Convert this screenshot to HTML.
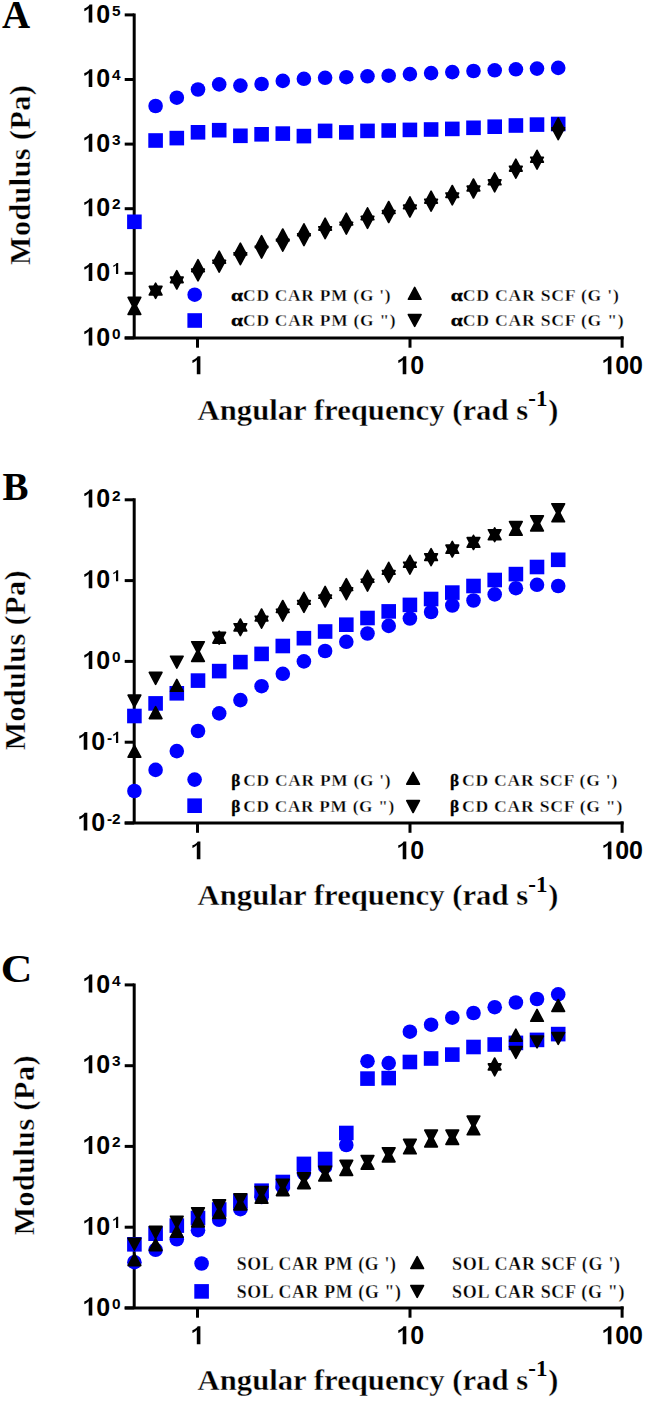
<!DOCTYPE html>
<html><head><meta charset="utf-8"><title>Rheology</title><style>
*{margin:0;padding:0}
html,body{width:645px;height:1401px;background:#fff;overflow:hidden}
svg{display:block}
.tl{font-family:"Liberation Sans",sans-serif;font-weight:bold;font-size:25px;fill:#000}
.sup{font-family:"Liberation Sans",sans-serif;font-weight:bold;font-size:15.4px;fill:#000}
.ti{font-family:"Liberation Serif",serif;font-weight:bold;font-size:30.4px;fill:#000;stroke:#fff;stroke-width:0.35px}
.lg.lgp{stroke:#000;stroke-width:0.3px;letter-spacing:0}
.tr{stroke:#000;stroke-width:1.6px;stroke-linejoin:round}
.sup2{font-family:"Liberation Serif",serif;font-weight:bold;font-size:23px;fill:#000}
.yt{font-size:30px;letter-spacing:0.5px}
.pl{font-family:"Liberation Serif",serif;font-weight:bold;font-size:39px;fill:#000}
.lg{font-family:"Liberation Serif",serif;font-weight:bold;font-size:16px;letter-spacing:0.7px;fill:#000;stroke:#fff;stroke-width:0.28px}
</style></head><body>
<svg width="645" height="1401" viewBox="0 0 645 1401">
<rect width="645" height="1401" fill="#fff"/>
<text x="2" y="27.5" class="pl">A</text>
<text x="2.5" y="499.5" class="pl">B</text>
<text x="0.8" y="982.4" class="pl" textLength="31.6" lengthAdjust="spacingAndGlyphs">C</text>
<g stroke="#000" stroke-width="3" fill="none">
<path d="M134.2 13.4V337.9"/>
<path d="M124.7 337.9H623.6"/>
<path d="M124.7 14.9H134.2"/>
<path d="M124.7 79.5H134.2"/>
<path d="M124.7 144.1H134.2"/>
<path d="M124.7 208.7H134.2"/>
<path d="M124.7 273.3H134.2"/>
<path d="M124.7 337.9H134.2"/>
<path d="M197.5 337.9V347.7"/>
<path d="M410.0 337.9V347.7"/>
<path d="M622.1 336.4V347.7"/>
</g>
<text x="112.04" y="15.6" class="sup">5</text>
<path transform="translate(82.3 22.5)" d="M10.0 0.0L10.0 -17.9L7.3 -17.9C6.4 -16.2 4.4 -14.8 2.0 -14.0L2.0 -11.3C3.6 -11.8 5.1 -12.8 6.4 -14.2L6.4 0.0Z"/>
<text x="96.2" y="22.5" class="tl">0</text>
<text x="112.04" y="80.2" class="sup">4</text>
<path transform="translate(82.3 87.1)" d="M10.0 0.0L10.0 -17.9L7.3 -17.9C6.4 -16.2 4.4 -14.8 2.0 -14.0L2.0 -11.3C3.6 -11.8 5.1 -12.8 6.4 -14.2L6.4 0.0Z"/>
<text x="96.2" y="87.1" class="tl">0</text>
<text x="112.04" y="144.8" class="sup">3</text>
<path transform="translate(82.3 151.7)" d="M10.0 0.0L10.0 -17.9L7.3 -17.9C6.4 -16.2 4.4 -14.8 2.0 -14.0L2.0 -11.3C3.6 -11.8 5.1 -12.8 6.4 -14.2L6.4 0.0Z"/>
<text x="96.2" y="151.7" class="tl">0</text>
<text x="112.04" y="209.4" class="sup">2</text>
<path transform="translate(82.3 216.3)" d="M10.0 0.0L10.0 -17.9L7.3 -17.9C6.4 -16.2 4.4 -14.8 2.0 -14.0L2.0 -11.3C3.6 -11.8 5.1 -12.8 6.4 -14.2L6.4 0.0Z"/>
<text x="96.2" y="216.3" class="tl">0</text>
<path transform="translate(112.04 274.0) scale(0.616)" d="M10.0 0.0L10.0 -17.9L7.3 -17.9C6.4 -16.2 4.4 -14.8 2.0 -14.0L2.0 -11.3C3.6 -11.8 5.1 -12.8 6.4 -14.2L6.4 0.0Z"/>
<path transform="translate(82.3 280.9)" d="M10.0 0.0L10.0 -17.9L7.3 -17.9C6.4 -16.2 4.4 -14.8 2.0 -14.0L2.0 -11.3C3.6 -11.8 5.1 -12.8 6.4 -14.2L6.4 0.0Z"/>
<text x="96.2" y="280.9" class="tl">0</text>
<text x="112.04" y="338.6" class="sup">0</text>
<path transform="translate(82.3 345.5)" d="M10.0 0.0L10.0 -17.9L7.3 -17.9C6.4 -16.2 4.4 -14.8 2.0 -14.0L2.0 -11.3C3.6 -11.8 5.1 -12.8 6.4 -14.2L6.4 0.0Z"/>
<text x="96.2" y="345.5" class="tl">0</text>
<path transform="translate(190.4 374.2)" d="M10.0 0.0L10.0 -17.9L7.3 -17.9C6.4 -16.2 4.4 -14.8 2.0 -14.0L2.0 -11.3C3.6 -11.8 5.1 -12.8 6.4 -14.2L6.4 0.0Z"/>
<path transform="translate(396.3 374.2)" d="M10.0 0.0L10.0 -17.9L7.3 -17.9C6.4 -16.2 4.4 -14.8 2.0 -14.0L2.0 -11.3C3.6 -11.8 5.1 -12.8 6.4 -14.2L6.4 0.0Z"/>
<text x="410.2" y="374.2" class="tl">0</text>
<path transform="translate(601.4 374.2)" d="M10.0 0.0L10.0 -17.9L7.3 -17.9C6.4 -16.2 4.4 -14.8 2.0 -14.0L2.0 -11.3C3.6 -11.8 5.1 -12.8 6.4 -14.2L6.4 0.0Z"/>
<text x="615.2" y="374.2" class="tl">0</text>
<text x="629.1" y="374.2" class="tl">0</text>
<text x="197.6" y="420.3" class="ti" textLength="330.5" lengthAdjust="spacingAndGlyphs">Angular frequency (rad s</text>
<text x="528.3" y="406.4" class="sup2">-1</text>
<text x="548.3" y="420.3" class="ti">)</text>
<text transform="translate(29.6 174.8) rotate(-90)" text-anchor="middle" class="ti yt">Modulus (Pa)</text>
<g stroke="#000" stroke-width="3" fill="none">
<path d="M134.2 498.3V823.0"/>
<path d="M124.7 823.0H623.6"/>
<path d="M124.7 499.8H134.2"/>
<path d="M124.7 580.6H134.2"/>
<path d="M124.7 661.4H134.2"/>
<path d="M124.7 742.2H134.2"/>
<path d="M124.7 823.0H134.2"/>
<path d="M197.5 823.0V832.8"/>
<path d="M410.0 823.0V832.8"/>
<path d="M622.1 821.5V832.8"/>
</g>
<text x="112.04" y="500.5" class="sup">2</text>
<path transform="translate(82.3 507.4)" d="M10.0 0.0L10.0 -17.9L7.3 -17.9C6.4 -16.2 4.4 -14.8 2.0 -14.0L2.0 -11.3C3.6 -11.8 5.1 -12.8 6.4 -14.2L6.4 0.0Z"/>
<text x="96.2" y="507.4" class="tl">0</text>
<path transform="translate(112.04 581.3) scale(0.616)" d="M10.0 0.0L10.0 -17.9L7.3 -17.9C6.4 -16.2 4.4 -14.8 2.0 -14.0L2.0 -11.3C3.6 -11.8 5.1 -12.8 6.4 -14.2L6.4 0.0Z"/>
<path transform="translate(82.3 588.2)" d="M10.0 0.0L10.0 -17.9L7.3 -17.9C6.4 -16.2 4.4 -14.8 2.0 -14.0L2.0 -11.3C3.6 -11.8 5.1 -12.8 6.4 -14.2L6.4 0.0Z"/>
<text x="96.2" y="588.2" class="tl">0</text>
<text x="112.04" y="662.1" class="sup">0</text>
<path transform="translate(82.3 669.0)" d="M10.0 0.0L10.0 -17.9L7.3 -17.9C6.4 -16.2 4.4 -14.8 2.0 -14.0L2.0 -11.3C3.6 -11.8 5.1 -12.8 6.4 -14.2L6.4 0.0Z"/>
<text x="96.2" y="669.0" class="tl">0</text>
<text x="106.91" y="742.9" class="sup">-</text>
<path transform="translate(112.04 742.9) scale(0.616)" d="M10.0 0.0L10.0 -17.9L7.3 -17.9C6.4 -16.2 4.4 -14.8 2.0 -14.0L2.0 -11.3C3.6 -11.8 5.1 -12.8 6.4 -14.2L6.4 0.0Z"/>
<path transform="translate(77.3 749.8)" d="M10.0 0.0L10.0 -17.9L7.3 -17.9C6.4 -16.2 4.4 -14.8 2.0 -14.0L2.0 -11.3C3.6 -11.8 5.1 -12.8 6.4 -14.2L6.4 0.0Z"/>
<text x="91.2" y="749.8" class="tl">0</text>
<text x="106.91" y="823.7" class="sup">-</text>
<text x="112.04" y="823.7" class="sup">2</text>
<path transform="translate(77.3 830.6)" d="M10.0 0.0L10.0 -17.9L7.3 -17.9C6.4 -16.2 4.4 -14.8 2.0 -14.0L2.0 -11.3C3.6 -11.8 5.1 -12.8 6.4 -14.2L6.4 0.0Z"/>
<text x="91.2" y="830.6" class="tl">0</text>
<path transform="translate(190.4 859.3)" d="M10.0 0.0L10.0 -17.9L7.3 -17.9C6.4 -16.2 4.4 -14.8 2.0 -14.0L2.0 -11.3C3.6 -11.8 5.1 -12.8 6.4 -14.2L6.4 0.0Z"/>
<path transform="translate(396.3 859.3)" d="M10.0 0.0L10.0 -17.9L7.3 -17.9C6.4 -16.2 4.4 -14.8 2.0 -14.0L2.0 -11.3C3.6 -11.8 5.1 -12.8 6.4 -14.2L6.4 0.0Z"/>
<text x="410.2" y="859.3" class="tl">0</text>
<path transform="translate(601.4 859.3)" d="M10.0 0.0L10.0 -17.9L7.3 -17.9C6.4 -16.2 4.4 -14.8 2.0 -14.0L2.0 -11.3C3.6 -11.8 5.1 -12.8 6.4 -14.2L6.4 0.0Z"/>
<text x="615.2" y="859.3" class="tl">0</text>
<text x="629.1" y="859.3" class="tl">0</text>
<text x="197.6" y="905.4" class="ti" textLength="330.5" lengthAdjust="spacingAndGlyphs">Angular frequency (rad s</text>
<text x="528.3" y="891.5" class="sup2">-1</text>
<text x="548.3" y="905.4" class="ti">)</text>
<text transform="translate(25.0 660.1) rotate(-90)" text-anchor="middle" class="ti yt">Modulus (Pa)</text>
<g stroke="#000" stroke-width="3" fill="none">
<path d="M134.2 983.4V1307.9"/>
<path d="M124.7 1307.9H623.6"/>
<path d="M124.7 984.9H134.2"/>
<path d="M124.7 1065.7H134.2"/>
<path d="M124.7 1146.4H134.2"/>
<path d="M124.7 1227.2H134.2"/>
<path d="M124.7 1307.9H134.2"/>
<path d="M197.5 1307.9V1317.7"/>
<path d="M410.0 1307.9V1317.7"/>
<path d="M622.1 1306.4V1317.7"/>
</g>
<text x="112.04" y="985.6" class="sup">4</text>
<path transform="translate(82.3 992.5)" d="M10.0 0.0L10.0 -17.9L7.3 -17.9C6.4 -16.2 4.4 -14.8 2.0 -14.0L2.0 -11.3C3.6 -11.8 5.1 -12.8 6.4 -14.2L6.4 0.0Z"/>
<text x="96.2" y="992.5" class="tl">0</text>
<text x="112.04" y="1066.4" class="sup">3</text>
<path transform="translate(82.3 1073.2)" d="M10.0 0.0L10.0 -17.9L7.3 -17.9C6.4 -16.2 4.4 -14.8 2.0 -14.0L2.0 -11.3C3.6 -11.8 5.1 -12.8 6.4 -14.2L6.4 0.0Z"/>
<text x="96.2" y="1073.2" class="tl">0</text>
<text x="112.04" y="1147.1" class="sup">2</text>
<path transform="translate(82.3 1154.0)" d="M10.0 0.0L10.0 -17.9L7.3 -17.9C6.4 -16.2 4.4 -14.8 2.0 -14.0L2.0 -11.3C3.6 -11.8 5.1 -12.8 6.4 -14.2L6.4 0.0Z"/>
<text x="96.2" y="1154.0" class="tl">0</text>
<path transform="translate(112.04 1227.9) scale(0.616)" d="M10.0 0.0L10.0 -17.9L7.3 -17.9C6.4 -16.2 4.4 -14.8 2.0 -14.0L2.0 -11.3C3.6 -11.8 5.1 -12.8 6.4 -14.2L6.4 0.0Z"/>
<path transform="translate(82.3 1234.8)" d="M10.0 0.0L10.0 -17.9L7.3 -17.9C6.4 -16.2 4.4 -14.8 2.0 -14.0L2.0 -11.3C3.6 -11.8 5.1 -12.8 6.4 -14.2L6.4 0.0Z"/>
<text x="96.2" y="1234.8" class="tl">0</text>
<text x="112.04" y="1308.6" class="sup">0</text>
<path transform="translate(82.3 1315.5)" d="M10.0 0.0L10.0 -17.9L7.3 -17.9C6.4 -16.2 4.4 -14.8 2.0 -14.0L2.0 -11.3C3.6 -11.8 5.1 -12.8 6.4 -14.2L6.4 0.0Z"/>
<text x="96.2" y="1315.5" class="tl">0</text>
<path transform="translate(190.4 1344.2)" d="M10.0 0.0L10.0 -17.9L7.3 -17.9C6.4 -16.2 4.4 -14.8 2.0 -14.0L2.0 -11.3C3.6 -11.8 5.1 -12.8 6.4 -14.2L6.4 0.0Z"/>
<path transform="translate(396.3 1344.2)" d="M10.0 0.0L10.0 -17.9L7.3 -17.9C6.4 -16.2 4.4 -14.8 2.0 -14.0L2.0 -11.3C3.6 -11.8 5.1 -12.8 6.4 -14.2L6.4 0.0Z"/>
<text x="410.2" y="1344.2" class="tl">0</text>
<path transform="translate(601.4 1344.2)" d="M10.0 0.0L10.0 -17.9L7.3 -17.9C6.4 -16.2 4.4 -14.8 2.0 -14.0L2.0 -11.3C3.6 -11.8 5.1 -12.8 6.4 -14.2L6.4 0.0Z"/>
<text x="615.2" y="1344.2" class="tl">0</text>
<text x="629.1" y="1344.2" class="tl">0</text>
<text x="197.6" y="1390.3" class="ti" textLength="330.5" lengthAdjust="spacingAndGlyphs">Angular frequency (rad s</text>
<text x="528.3" y="1376.4" class="sup2">-1</text>
<text x="548.3" y="1390.3" class="ti">)</text>
<text transform="translate(33.7 1145.2) rotate(-90)" text-anchor="middle" class="ti yt">Modulus (Pa)</text>
<circle cx="194.7" cy="294.7" r="7.3" fill="#0000ff"/>
<rect x="187.4" y="313.2" width="14.6" height="14.6" fill="#0000ff"/>
<path class="tr" d="M414.70 287.40L421.05 299.30L408.35 299.30Z"/>
<path class="tr" d="M408.35 314.50L421.05 314.50L414.70 326.40Z"/>
<text x="231.0" y="301.0" class="lg lgp" textLength="12.0" lengthAdjust="spacingAndGlyphs">α</text>
<text x="243.1" y="301.0" class="lg" textLength="148.3" lengthAdjust="spacingAndGlyphs">CD CAR PM (G ')</text>
<text x="231.0" y="326.2" class="lg lgp" textLength="12.0" lengthAdjust="spacingAndGlyphs">α</text>
<text x="243.1" y="326.2" class="lg" textLength="153.3" lengthAdjust="spacingAndGlyphs">CD CAR PM (G &quot;)</text>
<text x="450.7" y="300.6" class="lg lgp" textLength="12.0" lengthAdjust="spacingAndGlyphs">α</text>
<text x="462.8" y="300.6" class="lg" textLength="156.8" lengthAdjust="spacingAndGlyphs">CD CAR SCF (G ')</text>
<text x="450.7" y="325.8" class="lg lgp" textLength="12.0" lengthAdjust="spacingAndGlyphs">α</text>
<text x="462.8" y="325.8" class="lg" textLength="161.7" lengthAdjust="spacingAndGlyphs">CD CAR SCF (G &quot;)</text>
<circle cx="194.6" cy="779.6" r="7.3" fill="#0000ff"/>
<rect x="187.3" y="798.4" width="14.6" height="14.6" fill="#0000ff"/>
<path class="tr" d="M413.10 772.30L419.45 784.20L406.75 784.20Z"/>
<path class="tr" d="M406.75 800.60L419.45 800.60L413.10 812.50Z"/>
<text x="231.3" y="786.3" class="lg lgp" textLength="9.1" lengthAdjust="spacingAndGlyphs">β</text>
<text x="243.3" y="786.3" class="lg" style="font-size:16.5px" textLength="148.1" lengthAdjust="spacingAndGlyphs">CD CAR PM (G ')</text>
<text x="231.3" y="811.5" class="lg lgp" textLength="9.1" lengthAdjust="spacingAndGlyphs">β</text>
<text x="243.3" y="811.5" class="lg" style="font-size:16.5px" textLength="151.8" lengthAdjust="spacingAndGlyphs">CD CAR PM (G &quot;)</text>
<text x="450.0" y="786.3" class="lg lgp" textLength="9.1" lengthAdjust="spacingAndGlyphs">β</text>
<text x="462.0" y="786.3" class="lg" style="font-size:16.5px" textLength="156.0" lengthAdjust="spacingAndGlyphs">CD CAR SCF (G ')</text>
<text x="450.0" y="811.5" class="lg lgp" textLength="9.1" lengthAdjust="spacingAndGlyphs">β</text>
<text x="462.0" y="811.5" class="lg" style="font-size:16.5px" textLength="161.0" lengthAdjust="spacingAndGlyphs">CD CAR SCF (G &quot;)</text>
<circle cx="201.6" cy="1263.5" r="7.3" fill="#0000ff"/>
<rect x="194.3" y="1284.1" width="14.6" height="14.6" fill="#0000ff"/>
<path class="tr" d="M417.20 1256.60L423.55 1268.50L410.85 1268.50Z"/>
<path class="tr" d="M410.85 1285.50L423.55 1285.50L417.20 1297.40Z"/>
<text x="236.8" y="1269.9" class="lg" style="font-size:18.5px" textLength="159.9" lengthAdjust="spacingAndGlyphs">SOL CAR PM (G ')</text>
<text x="236.8" y="1297.8" class="lg" style="font-size:18.5px" textLength="164.9" lengthAdjust="spacingAndGlyphs">SOL CAR PM (G &quot;)</text>
<text x="452.1" y="1269.9" class="lg" style="font-size:18.5px" textLength="168.7" lengthAdjust="spacingAndGlyphs">SOL CAR SCF (G ')</text>
<text x="452.1" y="1297.8" class="lg" style="font-size:18.5px" textLength="173.1" lengthAdjust="spacingAndGlyphs">SOL CAR SCF (G &quot;)</text>
<circle cx="155.6" cy="106.0" r="7.3" fill="#0000ff"/>
<circle cx="176.8" cy="97.7" r="7.3" fill="#0000ff"/>
<circle cx="198.0" cy="89.5" r="7.3" fill="#0000ff"/>
<circle cx="219.2" cy="84.4" r="7.3" fill="#0000ff"/>
<circle cx="240.4" cy="85.6" r="7.3" fill="#0000ff"/>
<circle cx="261.6" cy="84.0" r="7.3" fill="#0000ff"/>
<circle cx="282.8" cy="80.9" r="7.3" fill="#0000ff"/>
<circle cx="303.9" cy="78.8" r="7.3" fill="#0000ff"/>
<circle cx="325.1" cy="77.8" r="7.3" fill="#0000ff"/>
<circle cx="346.3" cy="77.2" r="7.3" fill="#0000ff"/>
<circle cx="367.5" cy="76.3" r="7.3" fill="#0000ff"/>
<circle cx="388.7" cy="75.7" r="7.3" fill="#0000ff"/>
<circle cx="409.9" cy="74.1" r="7.3" fill="#0000ff"/>
<circle cx="431.1" cy="73.1" r="7.3" fill="#0000ff"/>
<circle cx="452.3" cy="72.1" r="7.3" fill="#0000ff"/>
<circle cx="473.5" cy="71.0" r="7.3" fill="#0000ff"/>
<circle cx="494.7" cy="70.3" r="7.3" fill="#0000ff"/>
<circle cx="515.9" cy="69.3" r="7.3" fill="#0000ff"/>
<circle cx="537.0" cy="68.6" r="7.3" fill="#0000ff"/>
<circle cx="558.2" cy="67.9" r="7.3" fill="#0000ff"/>
<rect x="127.1" y="214.5" width="14.6" height="14.6" fill="#0000ff"/>
<rect x="148.3" y="133.2" width="14.6" height="14.6" fill="#0000ff"/>
<rect x="169.5" y="130.8" width="14.6" height="14.6" fill="#0000ff"/>
<rect x="190.7" y="125.0" width="14.6" height="14.6" fill="#0000ff"/>
<rect x="211.9" y="122.9" width="14.6" height="14.6" fill="#0000ff"/>
<rect x="233.1" y="128.5" width="14.6" height="14.6" fill="#0000ff"/>
<rect x="254.3" y="127.0" width="14.6" height="14.6" fill="#0000ff"/>
<rect x="275.5" y="126.3" width="14.6" height="14.6" fill="#0000ff"/>
<rect x="296.6" y="128.8" width="14.6" height="14.6" fill="#0000ff"/>
<rect x="317.8" y="123.6" width="14.6" height="14.6" fill="#0000ff"/>
<rect x="339.0" y="125.1" width="14.6" height="14.6" fill="#0000ff"/>
<rect x="360.2" y="123.6" width="14.6" height="14.6" fill="#0000ff"/>
<rect x="381.4" y="123.2" width="14.6" height="14.6" fill="#0000ff"/>
<rect x="402.6" y="122.6" width="14.6" height="14.6" fill="#0000ff"/>
<rect x="423.8" y="122.2" width="14.6" height="14.6" fill="#0000ff"/>
<rect x="445.0" y="121.6" width="14.6" height="14.6" fill="#0000ff"/>
<rect x="466.2" y="120.5" width="14.6" height="14.6" fill="#0000ff"/>
<rect x="487.4" y="119.4" width="14.6" height="14.6" fill="#0000ff"/>
<rect x="508.6" y="118.2" width="14.6" height="14.6" fill="#0000ff"/>
<rect x="529.7" y="117.3" width="14.6" height="14.6" fill="#0000ff"/>
<rect x="550.9" y="116.7" width="14.6" height="14.6" fill="#0000ff"/>
<path class="tr" d="M128.08 297.40L140.78 297.40L134.43 309.30Z"/>
<path class="tr" d="M134.43 302.50L140.78 314.40L128.08 314.40Z"/>
<path class="tr" d="M155.62 283.10L161.97 295.00L149.27 295.00Z"/>
<path class="tr" d="M149.27 286.40L161.97 286.40L155.62 298.30Z"/>
<path class="tr" d="M176.81 270.70L183.16 282.60L170.46 282.60Z"/>
<path class="tr" d="M170.46 277.10L183.16 277.10L176.81 289.00Z"/>
<path class="tr" d="M198.00 259.70L204.35 271.60L191.65 271.60Z"/>
<path class="tr" d="M191.65 269.00L204.35 269.00L198.00 280.90Z"/>
<path class="tr" d="M219.19 251.20L225.54 263.10L212.84 263.10Z"/>
<path class="tr" d="M212.84 260.30L225.54 260.30L219.19 272.20Z"/>
<path class="tr" d="M240.38 243.10L246.73 255.00L234.03 255.00Z"/>
<path class="tr" d="M234.03 252.80L246.73 252.80L240.38 264.70Z"/>
<path class="tr" d="M261.57 235.70L267.92 247.60L255.22 247.60Z"/>
<path class="tr" d="M255.22 246.20L267.92 246.20L261.57 258.10Z"/>
<path class="tr" d="M282.76 229.00L289.11 240.90L276.41 240.90Z"/>
<path class="tr" d="M276.41 239.30L289.11 239.30L282.76 251.20Z"/>
<path class="tr" d="M303.95 223.80L310.30 235.70L297.60 235.70Z"/>
<path class="tr" d="M297.60 233.70L310.30 233.70L303.95 245.60Z"/>
<path class="tr" d="M325.14 218.20L331.49 230.10L318.79 230.10Z"/>
<path class="tr" d="M318.79 226.80L331.49 226.80L325.14 238.70Z"/>
<path class="tr" d="M346.33 213.10L352.68 225.00L339.98 225.00Z"/>
<path class="tr" d="M339.98 222.20L352.68 222.20L346.33 234.10Z"/>
<path class="tr" d="M367.52 207.80L373.87 219.70L361.17 219.70Z"/>
<path class="tr" d="M361.17 216.40L373.87 216.40L367.52 228.30Z"/>
<path class="tr" d="M388.71 201.50L395.06 213.40L382.36 213.40Z"/>
<path class="tr" d="M382.36 210.60L395.06 210.60L388.71 222.50Z"/>
<path class="tr" d="M409.90 196.80L416.25 208.70L403.55 208.70Z"/>
<path class="tr" d="M403.55 205.10L416.25 205.10L409.90 217.00Z"/>
<path class="tr" d="M431.09 191.20L437.44 203.10L424.74 203.10Z"/>
<path class="tr" d="M424.74 199.30L437.44 199.30L431.09 211.20Z"/>
<path class="tr" d="M452.28 185.50L458.63 197.40L445.93 197.40Z"/>
<path class="tr" d="M445.93 193.00L458.63 193.00L452.28 204.90Z"/>
<path class="tr" d="M473.47 179.00L479.82 190.90L467.12 190.90Z"/>
<path class="tr" d="M467.12 186.10L479.82 186.10L473.47 198.00Z"/>
<path class="tr" d="M494.66 172.80L501.01 184.70L488.31 184.70Z"/>
<path class="tr" d="M488.31 179.90L501.01 179.90L494.66 191.80Z"/>
<path class="tr" d="M515.85 159.20L522.20 171.10L509.50 171.10Z"/>
<path class="tr" d="M509.50 166.30L522.20 166.30L515.85 178.20Z"/>
<path class="tr" d="M537.04 150.30L543.39 162.20L530.69 162.20Z"/>
<path class="tr" d="M530.69 157.20L543.39 157.20L537.04 169.10Z"/>
<path class="tr" d="M558.23 118.00L564.58 129.90L551.88 129.90Z"/>
<path class="tr" d="M551.88 127.80L564.58 127.80L558.23 139.70Z"/>
<circle cx="134.4" cy="791.0" r="7.3" fill="#0000ff"/>
<circle cx="155.6" cy="769.9" r="7.3" fill="#0000ff"/>
<circle cx="176.8" cy="751.1" r="7.3" fill="#0000ff"/>
<circle cx="198.0" cy="731.0" r="7.3" fill="#0000ff"/>
<circle cx="219.2" cy="713.4" r="7.3" fill="#0000ff"/>
<circle cx="240.4" cy="700.1" r="7.3" fill="#0000ff"/>
<circle cx="261.6" cy="686.2" r="7.3" fill="#0000ff"/>
<circle cx="282.8" cy="673.8" r="7.3" fill="#0000ff"/>
<circle cx="303.9" cy="661.4" r="7.3" fill="#0000ff"/>
<circle cx="325.1" cy="651.0" r="7.3" fill="#0000ff"/>
<circle cx="346.3" cy="641.8" r="7.3" fill="#0000ff"/>
<circle cx="367.5" cy="633.5" r="7.3" fill="#0000ff"/>
<circle cx="388.7" cy="625.9" r="7.3" fill="#0000ff"/>
<circle cx="409.9" cy="618.5" r="7.3" fill="#0000ff"/>
<circle cx="431.1" cy="612.0" r="7.3" fill="#0000ff"/>
<circle cx="452.3" cy="605.5" r="7.3" fill="#0000ff"/>
<circle cx="473.5" cy="600.5" r="7.3" fill="#0000ff"/>
<circle cx="494.7" cy="594.4" r="7.3" fill="#0000ff"/>
<circle cx="515.9" cy="588.2" r="7.3" fill="#0000ff"/>
<circle cx="537.0" cy="584.8" r="7.3" fill="#0000ff"/>
<circle cx="558.2" cy="586.0" r="7.3" fill="#0000ff"/>
<rect x="127.1" y="708.7" width="14.6" height="14.6" fill="#0000ff"/>
<rect x="148.3" y="696.1" width="14.6" height="14.6" fill="#0000ff"/>
<rect x="169.5" y="686.0" width="14.6" height="14.6" fill="#0000ff"/>
<rect x="190.7" y="673.3" width="14.6" height="14.6" fill="#0000ff"/>
<rect x="211.9" y="663.8" width="14.6" height="14.6" fill="#0000ff"/>
<rect x="233.1" y="654.8" width="14.6" height="14.6" fill="#0000ff"/>
<rect x="254.3" y="646.6" width="14.6" height="14.6" fill="#0000ff"/>
<rect x="275.5" y="638.7" width="14.6" height="14.6" fill="#0000ff"/>
<rect x="296.6" y="630.9" width="14.6" height="14.6" fill="#0000ff"/>
<rect x="317.8" y="624.2" width="14.6" height="14.6" fill="#0000ff"/>
<rect x="339.0" y="617.4" width="14.6" height="14.6" fill="#0000ff"/>
<rect x="360.2" y="610.7" width="14.6" height="14.6" fill="#0000ff"/>
<rect x="381.4" y="604.1" width="14.6" height="14.6" fill="#0000ff"/>
<rect x="402.6" y="597.6" width="14.6" height="14.6" fill="#0000ff"/>
<rect x="423.8" y="591.7" width="14.6" height="14.6" fill="#0000ff"/>
<rect x="445.0" y="585.3" width="14.6" height="14.6" fill="#0000ff"/>
<rect x="466.2" y="578.7" width="14.6" height="14.6" fill="#0000ff"/>
<rect x="487.4" y="572.7" width="14.6" height="14.6" fill="#0000ff"/>
<rect x="508.6" y="566.8" width="14.6" height="14.6" fill="#0000ff"/>
<rect x="529.7" y="559.7" width="14.6" height="14.6" fill="#0000ff"/>
<rect x="550.9" y="552.5" width="14.6" height="14.6" fill="#0000ff"/>
<path class="tr" d="M128.08 695.10L140.78 695.10L134.43 707.00Z"/>
<path class="tr" d="M134.43 745.30L140.78 757.20L128.08 757.20Z"/>
<path class="tr" d="M149.27 672.40L161.97 672.40L155.62 684.30Z"/>
<path class="tr" d="M155.62 706.70L161.97 718.60L149.27 718.60Z"/>
<path class="tr" d="M170.46 656.20L183.16 656.20L176.81 668.10Z"/>
<path class="tr" d="M176.81 679.40L183.16 691.30L170.46 691.30Z"/>
<path class="tr" d="M191.65 641.70L204.35 641.70L198.00 653.60Z"/>
<path class="tr" d="M198.00 649.50L204.35 661.40L191.65 661.40Z"/>
<path class="tr" d="M219.19 631.20L225.54 643.10L212.84 643.10Z"/>
<path class="tr" d="M212.84 632.30L225.54 632.30L219.19 644.20Z"/>
<path class="tr" d="M240.38 619.00L246.73 630.90L234.03 630.90Z"/>
<path class="tr" d="M234.03 623.70L246.73 623.70L240.38 635.60Z"/>
<path class="tr" d="M261.57 609.00L267.92 620.90L255.22 620.90Z"/>
<path class="tr" d="M255.22 616.30L267.92 616.30L261.57 628.20Z"/>
<path class="tr" d="M282.76 600.50L289.11 612.40L276.41 612.40Z"/>
<path class="tr" d="M276.41 609.20L289.11 609.20L282.76 621.10Z"/>
<path class="tr" d="M303.95 592.30L310.30 604.20L297.60 604.20Z"/>
<path class="tr" d="M297.60 600.50L310.30 600.50L303.95 612.40Z"/>
<path class="tr" d="M325.14 586.40L331.49 598.30L318.79 598.30Z"/>
<path class="tr" d="M318.79 595.10L331.49 595.10L325.14 607.00Z"/>
<path class="tr" d="M346.33 578.60L352.68 590.50L339.98 590.50Z"/>
<path class="tr" d="M339.98 587.80L352.68 587.80L346.33 599.70Z"/>
<path class="tr" d="M367.52 570.30L373.87 582.20L361.17 582.20Z"/>
<path class="tr" d="M361.17 579.20L373.87 579.20L367.52 591.10Z"/>
<path class="tr" d="M388.71 562.30L395.06 574.20L382.36 574.20Z"/>
<path class="tr" d="M382.36 570.50L395.06 570.50L388.71 582.40Z"/>
<path class="tr" d="M409.90 555.30L416.25 567.20L403.55 567.20Z"/>
<path class="tr" d="M403.55 562.20L416.25 562.20L409.90 574.10Z"/>
<path class="tr" d="M431.09 548.60L437.44 560.50L424.74 560.50Z"/>
<path class="tr" d="M424.74 553.80L437.44 553.80L431.09 565.70Z"/>
<path class="tr" d="M452.28 541.40L458.63 553.30L445.93 553.30Z"/>
<path class="tr" d="M445.93 545.10L458.63 545.10L452.28 557.00Z"/>
<path class="tr" d="M473.47 535.30L479.82 547.20L467.12 547.20Z"/>
<path class="tr" d="M467.12 537.60L479.82 537.60L473.47 549.50Z"/>
<path class="tr" d="M494.66 527.80L501.01 539.70L488.31 539.70Z"/>
<path class="tr" d="M488.31 529.70L501.01 529.70L494.66 541.60Z"/>
<path class="tr" d="M509.50 521.60L522.20 521.60L515.85 533.50Z"/>
<path class="tr" d="M515.85 523.30L522.20 535.20L509.50 535.20Z"/>
<path class="tr" d="M530.69 515.80L543.39 515.80L537.04 527.70Z"/>
<path class="tr" d="M537.04 519.00L543.39 530.90L530.69 530.90Z"/>
<path class="tr" d="M551.88 503.80L564.58 503.80L558.23 515.70Z"/>
<path class="tr" d="M558.23 509.90L564.58 521.80L551.88 521.80Z"/>
<circle cx="134.4" cy="1262.2" r="7.3" fill="#0000ff"/>
<circle cx="155.6" cy="1249.8" r="7.3" fill="#0000ff"/>
<circle cx="176.8" cy="1239.3" r="7.3" fill="#0000ff"/>
<circle cx="198.0" cy="1230.2" r="7.3" fill="#0000ff"/>
<circle cx="219.2" cy="1219.8" r="7.3" fill="#0000ff"/>
<circle cx="240.4" cy="1209.2" r="7.3" fill="#0000ff"/>
<circle cx="261.6" cy="1197.0" r="7.3" fill="#0000ff"/>
<circle cx="282.8" cy="1187.0" r="7.3" fill="#0000ff"/>
<circle cx="303.9" cy="1173.0" r="7.3" fill="#0000ff"/>
<circle cx="325.1" cy="1166.7" r="7.3" fill="#0000ff"/>
<circle cx="346.3" cy="1145.0" r="7.3" fill="#0000ff"/>
<circle cx="367.5" cy="1061.2" r="7.3" fill="#0000ff"/>
<circle cx="388.7" cy="1063.1" r="7.3" fill="#0000ff"/>
<circle cx="409.9" cy="1031.7" r="7.3" fill="#0000ff"/>
<circle cx="431.1" cy="1024.7" r="7.3" fill="#0000ff"/>
<circle cx="452.3" cy="1017.7" r="7.3" fill="#0000ff"/>
<circle cx="473.5" cy="1013.0" r="7.3" fill="#0000ff"/>
<circle cx="494.7" cy="1007.2" r="7.3" fill="#0000ff"/>
<circle cx="515.9" cy="1002.5" r="7.3" fill="#0000ff"/>
<circle cx="537.0" cy="999.0" r="7.3" fill="#0000ff"/>
<circle cx="558.2" cy="994.4" r="7.3" fill="#0000ff"/>
<rect x="127.1" y="1237.0" width="14.6" height="14.6" fill="#0000ff"/>
<rect x="148.3" y="1226.4" width="14.6" height="14.6" fill="#0000ff"/>
<rect x="169.5" y="1218.3" width="14.6" height="14.6" fill="#0000ff"/>
<rect x="190.7" y="1210.7" width="14.6" height="14.6" fill="#0000ff"/>
<rect x="211.9" y="1202.2" width="14.6" height="14.6" fill="#0000ff"/>
<rect x="233.1" y="1193.7" width="14.6" height="14.6" fill="#0000ff"/>
<rect x="254.3" y="1183.4" width="14.6" height="14.6" fill="#0000ff"/>
<rect x="275.5" y="1174.7" width="14.6" height="14.6" fill="#0000ff"/>
<rect x="296.6" y="1156.6" width="14.6" height="14.6" fill="#0000ff"/>
<rect x="317.8" y="1151.7" width="14.6" height="14.6" fill="#0000ff"/>
<rect x="339.0" y="1125.7" width="14.6" height="14.6" fill="#0000ff"/>
<rect x="360.2" y="1071.3" width="14.6" height="14.6" fill="#0000ff"/>
<rect x="381.4" y="1070.8" width="14.6" height="14.6" fill="#0000ff"/>
<rect x="402.6" y="1054.7" width="14.6" height="14.6" fill="#0000ff"/>
<rect x="423.8" y="1051.2" width="14.6" height="14.6" fill="#0000ff"/>
<rect x="445.0" y="1047.3" width="14.6" height="14.6" fill="#0000ff"/>
<rect x="466.2" y="1039.7" width="14.6" height="14.6" fill="#0000ff"/>
<rect x="487.4" y="1037.2" width="14.6" height="14.6" fill="#0000ff"/>
<rect x="508.6" y="1035.6" width="14.6" height="14.6" fill="#0000ff"/>
<rect x="529.7" y="1032.6" width="14.6" height="14.6" fill="#0000ff"/>
<rect x="550.9" y="1026.8" width="14.6" height="14.6" fill="#0000ff"/>
<path class="tr" d="M128.08 1238.30L140.78 1238.30L134.43 1250.20Z"/>
<path class="tr" d="M134.43 1253.70L140.78 1265.60L128.08 1265.60Z"/>
<path class="tr" d="M149.27 1226.40L161.97 1226.40L155.62 1238.30Z"/>
<path class="tr" d="M155.62 1238.70L161.97 1250.60L149.27 1250.60Z"/>
<path class="tr" d="M170.46 1216.20L183.16 1216.20L176.81 1228.10Z"/>
<path class="tr" d="M176.81 1225.40L183.16 1237.30L170.46 1237.30Z"/>
<path class="tr" d="M191.65 1207.80L204.35 1207.80L198.00 1219.70Z"/>
<path class="tr" d="M198.00 1215.00L204.35 1226.90L191.65 1226.90Z"/>
<path class="tr" d="M212.84 1199.90L225.54 1199.90L219.19 1211.80Z"/>
<path class="tr" d="M219.19 1206.60L225.54 1218.50L212.84 1218.50Z"/>
<path class="tr" d="M234.03 1193.70L246.73 1193.70L240.38 1205.60Z"/>
<path class="tr" d="M240.38 1198.10L246.73 1210.00L234.03 1210.00Z"/>
<path class="tr" d="M255.22 1186.50L267.92 1186.50L261.57 1198.40Z"/>
<path class="tr" d="M261.57 1191.30L267.92 1203.20L255.22 1203.20Z"/>
<path class="tr" d="M276.41 1179.30L289.11 1179.30L282.76 1191.20Z"/>
<path class="tr" d="M282.76 1183.70L289.11 1195.60L276.41 1195.60Z"/>
<path class="tr" d="M297.60 1172.80L310.30 1172.80L303.95 1184.70Z"/>
<path class="tr" d="M303.95 1176.70L310.30 1188.60L297.60 1188.60Z"/>
<path class="tr" d="M318.79 1166.20L331.49 1166.20L325.14 1178.10Z"/>
<path class="tr" d="M325.14 1169.00L331.49 1180.90L318.79 1180.90Z"/>
<path class="tr" d="M339.98 1160.40L352.68 1160.40L346.33 1172.30Z"/>
<path class="tr" d="M346.33 1163.50L352.68 1175.40L339.98 1175.40Z"/>
<path class="tr" d="M361.17 1155.50L373.87 1155.50L367.52 1167.40Z"/>
<path class="tr" d="M367.52 1157.30L373.87 1169.20L361.17 1169.20Z"/>
<path class="tr" d="M382.36 1147.80L395.06 1147.80L388.71 1159.70Z"/>
<path class="tr" d="M388.71 1150.00L395.06 1161.90L382.36 1161.90Z"/>
<path class="tr" d="M403.55 1139.40L416.25 1139.40L409.90 1151.30Z"/>
<path class="tr" d="M409.90 1141.90L416.25 1153.80L403.55 1153.80Z"/>
<path class="tr" d="M424.74 1130.10L437.44 1130.10L431.09 1142.00Z"/>
<path class="tr" d="M431.09 1135.00L437.44 1146.90L424.74 1146.90Z"/>
<path class="tr" d="M445.93 1130.10L458.63 1130.10L452.28 1142.00Z"/>
<path class="tr" d="M452.28 1132.60L458.63 1144.50L445.93 1144.50Z"/>
<path class="tr" d="M467.12 1116.10L479.82 1116.10L473.47 1128.00Z"/>
<path class="tr" d="M473.47 1122.90L479.82 1134.80L467.12 1134.80Z"/>
<path class="tr" d="M494.66 1058.00L501.01 1069.90L488.31 1069.90Z"/>
<path class="tr" d="M488.31 1063.90L501.01 1063.90L494.66 1075.80Z"/>
<path class="tr" d="M515.85 1029.20L522.20 1041.10L509.50 1041.10Z"/>
<path class="tr" d="M509.50 1046.50L522.20 1046.50L515.85 1058.40Z"/>
<path class="tr" d="M537.04 1009.40L543.39 1021.30L530.69 1021.30Z"/>
<path class="tr" d="M530.69 1036.00L543.39 1036.00L537.04 1047.90Z"/>
<path class="tr" d="M558.23 999.50L564.58 1011.40L551.88 1011.40Z"/>
<path class="tr" d="M551.88 1032.50L564.58 1032.50L558.23 1044.40Z"/>
</svg>
</body></html>
